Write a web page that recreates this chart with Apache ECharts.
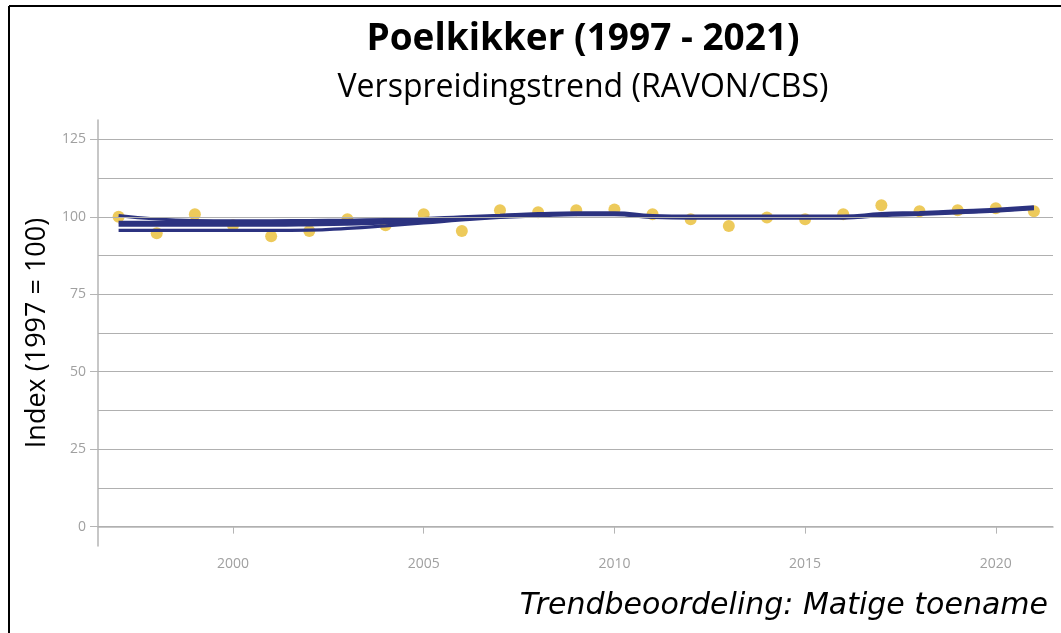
<!DOCTYPE html>
<html>
<head>
<meta charset="utf-8">
<script src="https://cdn.jsdelivr.net/npm/echarts@6/dist/echarts.min.js"></script>
<style>
  html, body { margin: 0; padding: 0; background: #fff; }
  #myChart { width: 1061px; height: 633px; }
</style>
</head>
<body>
<div id="myChart"></div>
<script>
  // jaren en indexwaarden
  var years = [1997, 1998, 1999, 2000, 2001, 2002, 2003, 2004, 2005, 2006, 2007, 2008, 2009,
    2010, 2011, 2012, 2013, 2014, 2015, 2016, 2017, 2018, 2019, 2020, 2021]
  var index = [100, 94.7, 100.8, 97.3, 93.7, 95.4, 99.2, 97.3, 100.8, 95.4, 102.1, 101.5, 102.1,
    102.4, 100.8, 99.2, 97.0, 99.8, 99.2, 100.8, 103.7, 101.8, 102.1, 102.8, 101.8]
  // trendlijnen (overlappend)
  var trend1 = [100.4, 99.3, 98.8, 98.7, 98.7, 98.8, 98.9, 99.1, 99.4, 100.0, 100.5, 101.0, 101.3,
    101.3, 100.4, 100.2, 100.2, 100.2, 100.2, 100.2, 101.0, 101.4, 101.9, 102.4, 103.2]
  var trend2 = [98.2, 98.2, 98.2, 98.2, 98.2, 98.2, 98.3, 98.6, 99.0, 99.6, 100.2, 100.7, 101.0,
    101.0, 100.1, 99.9, 99.9, 99.9, 99.9, 99.9, 100.7, 101.1, 101.6, 102.1, 102.9]
  var trend3 = [97.3, 97.3, 97.3, 97.3, 97.3, 97.4, 97.6, 98.0, 98.6, 99.4, 100.0, 100.5, 100.9,
    100.9, 100.0, 99.8, 99.8, 99.8, 99.8, 99.8, 100.6, 101.0, 101.5, 102.0, 102.8]
  var trend4 = [95.6, 95.6, 95.6, 95.6, 95.6, 95.7, 96.3, 97.1, 98.0, 99.0, 99.8, 100.3, 100.7,
    100.7, 99.8, 99.6, 99.6, 99.6, 99.6, 99.6, 100.4, 100.8, 101.3, 101.8, 102.6]
  var yLabels = [0, 25, 50, 75, 100, 125]
  var yGrid = [0, 12.5, 25, 37.5, 50, 62.5, 75, 87.5, 100, 112.5, 125]
  var xLabels = [2000, 2005, 2010, 2015, 2020]

  function pairs (vals) {
    return years.map(function (y, i) { return [y, vals[i]] })
  }

  var myChart = echarts.init(document.getElementById('myChart'))
  var lineColor = '#2c3380'
  var trendSeries = [trend1, trend2, trend3, trend4].map(function (t) {
    return {
      type: 'line',
      data: pairs(t),
      smooth: true,
      showSymbol: false,
      silent: true,
      z: 3,
      lineStyle: { color: lineColor, width: 3.2 }
    }
  })

  myChart.setOption({
    animation: false,
    backgroundColor: '#fff',
    textStyle: { fontFamily: 'Open Sans' },
    title: [
      {
        text: 'Poelkikker (1997 - 2021)',
        left: 578, top: 16, textAlign: 'center',
        textStyle: { fontSize: 37, fontWeight: 'bold', color: '#000', fontFamily: 'Open Sans' }
      },
      {
        text: 'Verspreidingstrend (RAVON/CBS)',
        left: 578, top: 67, textAlign: 'center',
        textStyle: { fontSize: 32, fontWeight: 'normal', color: '#000', fontFamily: 'Open Sans' }
      },
      {
        text: 'Trendbeoordeling: Matige toename',
        right: 8, top: 586,
        textStyle: { fontSize: 30, fontWeight: 'normal', fontStyle: 'italic', color: '#000', fontFamily: 'DejaVu Sans' }
      }
    ],
    graphic: [
      { type: 'line', shape: { x1: 9, y1: 6, x2: 1061, y2: 6 }, style: { stroke: '#000', lineWidth: 2 } },
      { type: 'line', shape: { x1: 9, y1: 6, x2: 9, y2: 633 }, style: { stroke: '#000', lineWidth: 2 } }
    ],
    grid: { left: 98, right: 8, top: 120, bottom: 87 },
    xAxis: {
      type: 'value',
      min: 1996.46,
      max: 2021.5,
      axisLine: { show: true, lineStyle: { color: '#b5b5b5', width: 1.5 } },
      axisTick: { show: true, length: 7, customValues: xLabels, lineStyle: { color: '#b5b5b5' } },
      axisLabel: {
        customValues: xLabels, color: '#a0a0a0', fontSize: 14, margin: 11,
        formatter: function (v) { return String(v) }
      },
      splitLine: { show: false }
    },
    yAxis: {
      type: 'value',
      min: -6.25,
      max: 131.25,
      name: 'Index (1997 = 100)',
      nameLocation: 'middle',
      nameGap: 47,
      nameTextStyle: { fontSize: 27, color: '#000', fontFamily: 'Open Sans' },
      axisLine: { show: true, lineStyle: { color: '#b5b5b5', width: 1.5 } },
      axisTick: { show: true, length: 8, customValues: yLabels, lineStyle: { color: '#b5b5b5' } },
      axisLabel: { customValues: yLabels, color: '#a0a0a0', fontSize: 14, margin: 12 },
      splitLine: { show: false }
    },
    series: [
      {
        type: 'scatter',
        data: [],
        silent: true,
        markLine: {
          silent: true,
          symbol: 'none',
          label: { show: false },
          lineStyle: { color: '#b0b0b0', type: 'solid', width: 1.2 },
          data: yGrid.map(function (v) { return { yAxis: v } })
        }
      },
      {
        type: 'scatter',
        data: pairs(index),
        symbolSize: 12,
        z: 2,
        itemStyle: { color: '#e8bd32', opacity: 0.8 }
      }
    ].concat(trendSeries)
  })
</script>
</body>
</html>
